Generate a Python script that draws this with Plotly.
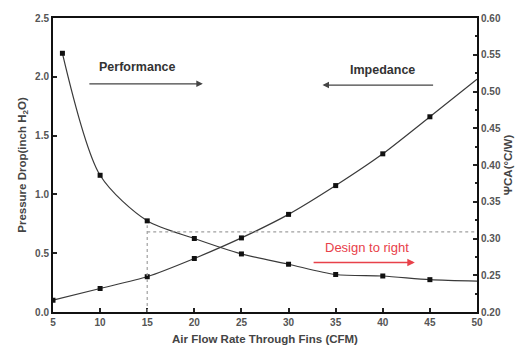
import plotly.graph_objects as go

# Data
flow_dp = [5, 10, 15, 20, 25, 30, 35, 40, 45, 50]
pressure_drop = [0.10, 0.20, 0.30, 0.455, 0.63, 0.83, 1.075, 1.345, 1.66, 1.98]

flow_psi = [6, 10, 15, 20, 25, 30, 35, 40, 45, 50]
psi_ca = [0.552, 0.386, 0.324, 0.300, 0.279, 0.265, 0.251, 0.249, 0.244, 0.242]

x_ticks = [5, 10, 15, 20, 25, 30, 35, 40, 45, 50]
design_flow = 15
design_psi = 0.309

FONT = "Liberation Sans, Arial, sans-serif"
LINE = "#3a3a3a"

fig = go.Figure()

# Pressure drop (impedance)
fig.add_trace(go.Scatter(
    x=flow_dp, y=pressure_drop, mode="lines",
    line=dict(color=LINE, width=1.2, shape="spline", smoothing=0.6),
    showlegend=False, yaxis="y"))
fig.add_trace(go.Scatter(
    x=flow_dp[:-1], y=pressure_drop[:-1], mode="markers",
    marker=dict(symbol="square", size=5, color="#111111"),
    showlegend=False, yaxis="y"))

# Psi_CA (performance)
fig.add_trace(go.Scatter(
    x=flow_psi, y=psi_ca, mode="lines",
    line=dict(color=LINE, width=1.2, shape="spline", smoothing=0.8),
    showlegend=False, yaxis="y2"))
fig.add_trace(go.Scatter(
    x=flow_psi[:-1], y=psi_ca[:-1], mode="markers",
    marker=dict(symbol="square", size=5, color="#111111"),
    showlegend=False, yaxis="y2"))

# Dotted guide lines
fig.add_shape(type="line", xref="x", yref="y2",
              x0=design_flow, x1=design_flow, y0=0.2, y1=psi_ca[2] - 0.006,
              line=dict(color="#a0a0a0", width=1.2, dash="dot"))
fig.add_shape(type="line", xref="x", yref="y2",
              x0=design_flow, x1=50, y0=design_psi, y1=design_psi,
              line=dict(color="#a0a0a0", width=1.2, dash="dot"))

tick_font = dict(family=FONT, size=10, color="#555555", weight="bold")
title_font = dict(family=FONT, size=11.5, color="#444444", weight="bold")

annotations = [
    dict(x=13.9, y=2.08, xref="x", yref="y", text="Performance", showarrow=False,
         font=dict(family=FONT, size=12.5, color="#333333", weight="bold")),
    dict(x=20.9, y=1.94, ax=8.7, ay=1.94, xref="x", yref="y", axref="x", ayref="y",
         text="", showarrow=True, arrowhead=2, arrowsize=1, arrowwidth=1.3, arrowcolor="#444444"),
    dict(x=40.0, y=2.06, xref="x", yref="y", text="Impedance", showarrow=False,
         font=dict(family=FONT, size=12.5, color="#333333", weight="bold")),
    dict(x=33.6, y=1.93, ax=45.5, ay=1.93, xref="x", yref="y", axref="x", ayref="y",
         text="", showarrow=True, arrowhead=2, arrowsize=1, arrowwidth=1.3, arrowcolor="#444444"),
    dict(x=38.3, y=0.55, xref="x", yref="y", text="Design to right", showarrow=False,
         font=dict(family=FONT, size=13, color="#e8414a")),
    dict(x=43.4, y=0.42, ax=32.5, ay=0.42, xref="x", yref="y", axref="x", ayref="y",
         text="", showarrow=True, arrowhead=2, arrowsize=1, arrowwidth=1.5, arrowcolor="#e8414a"),
]

fig.update_layout(
    width=529, height=356,
    margin=dict(l=53, r=52, t=16, b=44),
    paper_bgcolor="white", plot_bgcolor="white",
    annotations=annotations,
    xaxis=dict(
        range=[5, 50], tickvals=x_ticks, ticks="inside", ticklen=4, tickwidth=1.5,
        tickcolor="#222", showline=True, linecolor="#111", linewidth=2, mirror=True,
        showgrid=False, zeroline=False, tickfont=tick_font,
        title=dict(text="Air Flow Rate Through Fins (CFM)", font=title_font, standoff=8),
    ),
    yaxis=dict(
        range=[0, 2.5], dtick=0.5, tickformat=".1f", ticks="inside", ticklen=4,
        tickwidth=1.5, tickcolor="#222", showline=True, linecolor="#111", linewidth=2,
        showgrid=False, zeroline=False, tickfont=tick_font,
        title=dict(text="Pressure Drop(inch H<sub>2</sub>O)", font=title_font, standoff=6),
    ),
    yaxis2=dict(
        range=[0.2, 0.6], dtick=0.05, tickformat=".2f", ticks="inside", ticklen=4,
        tickwidth=1.5, tickcolor="#222", overlaying="y", side="right",
        showline=True, linecolor="#111", linewidth=2, showgrid=False, zeroline=False,
        tickfont=tick_font,
        minor=dict(ticks="inside", ticklen=2, dtick=0.025, tickcolor="#222"),
        title=dict(text="ΨCA(°C/W)", font=title_font, standoff=4),
    ),
)

fig.write_html("out.html")
